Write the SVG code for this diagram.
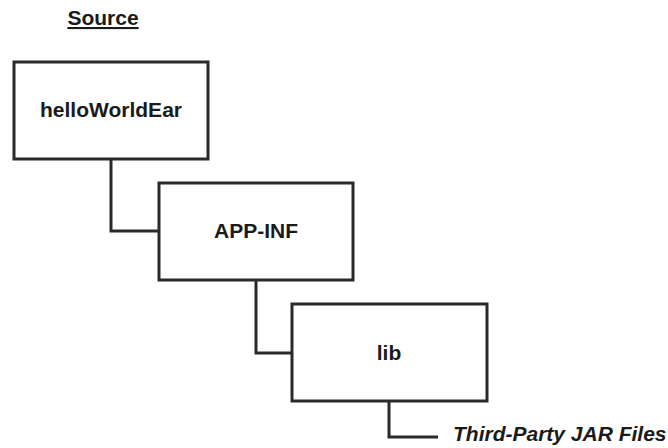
<svg xmlns="http://www.w3.org/2000/svg" width="668" height="448" viewBox="0 0 668 448">
<style>
.box{fill:#fff;stroke:#2a2a2a;stroke-width:3}
.con{fill:none;stroke:#2a2a2a;stroke-width:3}
.t{font-family:"Liberation Sans",Arial,sans-serif;font-size:21px;font-weight:bold;fill:#1a1a1a;text-anchor:middle}
</style>
<rect width="668" height="448" fill="#fff"/>
<text class="t" x="103" y="25" text-decoration="underline">Source</text>
<g id="connectors">
<path class="con" d="M111 159 V231 H159"/>
<path class="con" d="M256 280 V353 H292"/>
<path class="con" d="M389 401 V437 H438"/>
</g>
<g id="helloWorldEar">
<rect class="box" x="14" y="62" width="194" height="97"/>
<text class="t" x="111" y="117">helloWorldEar</text>
</g>
<g id="APP-INF">
<rect class="box" x="159" y="183" width="194" height="97"/>
<text class="t" x="256" y="238">APP-INF</text>
</g>
<g id="lib">
<rect class="box" x="292" y="304" width="195" height="97"/>
<text class="t" x="389" y="360">lib</text>
</g>
<g id="jar">
<text class="t" x="453" y="441" style="text-anchor:start;font-style:italic">Third-Party JAR Files</text>
</g>
</svg>
